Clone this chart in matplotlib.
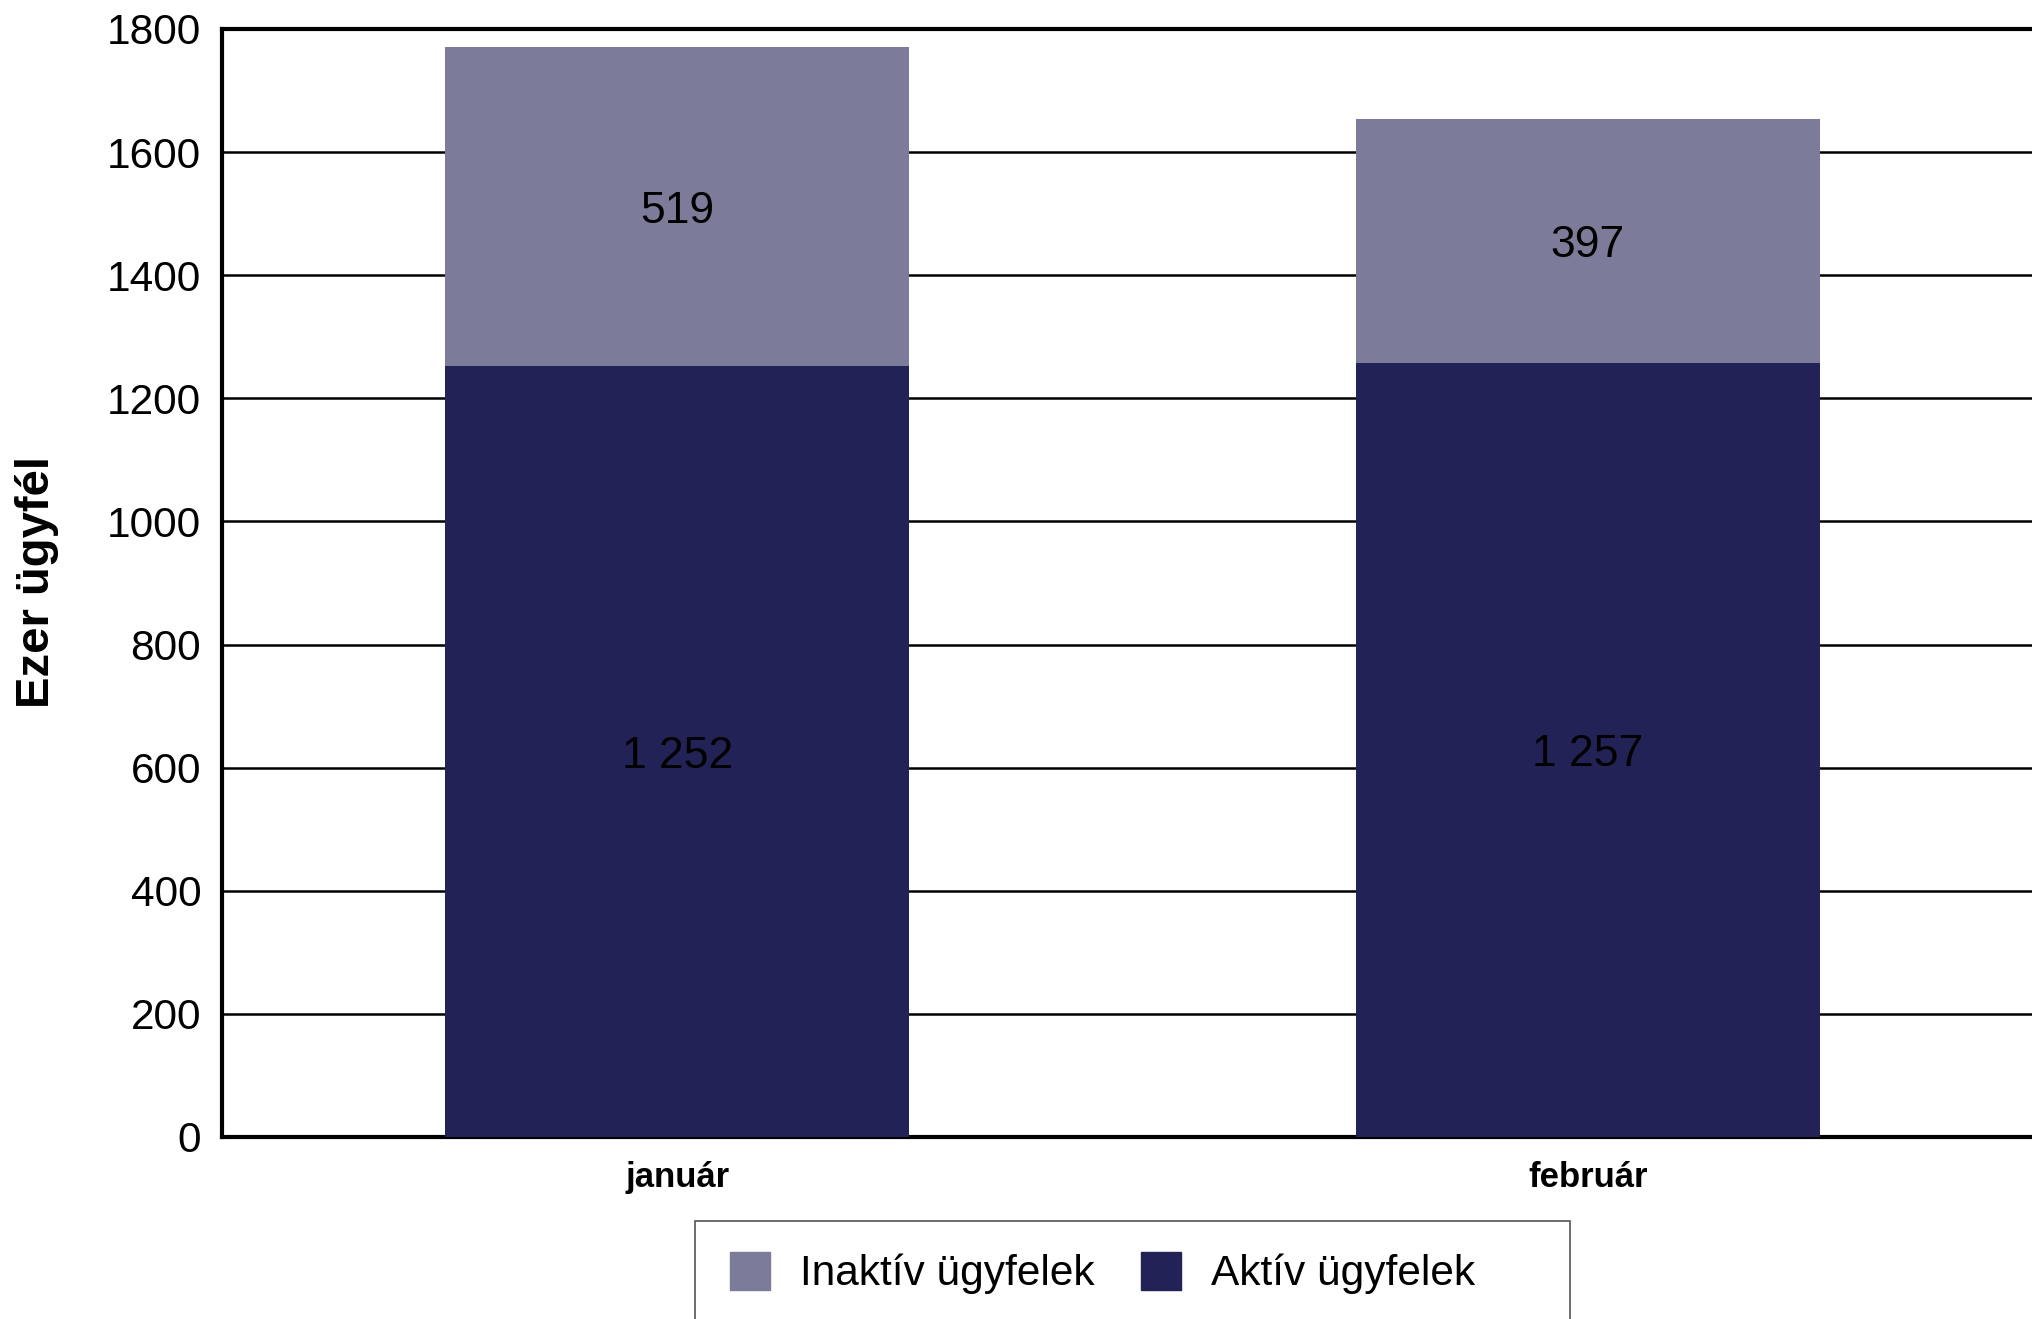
import matplotlib
matplotlib.use("Agg")
import matplotlib.pyplot as plt
from matplotlib.patches import Rectangle, Patch

# --------------------------------------------------
# Data
# --------------------------------------------------
months = ["január", "február"]
aktiv = [1252, 1257]
inaktiv = [519, 397]
aktiv_labels = ["1 252", "1 257"]
inaktiv_labels = ["519", "397"]
yticks = [0, 200, 400, 600, 800, 1000, 1200, 1400, 1600, 1800]

c_inaktiv = "#7C7B99"
c_aktiv = "#232257"

plt.rcParams["font.family"] = ["Liberation Sans", "DejaVu Sans"]

W, H = 2033, 1319
fig = plt.figure(figsize=(W / 100, H / 100), dpi=100)

# axes spans slightly beyond right edge (as in the cropped source)
left, right = 222, 2043
top, bottom = 29, 1137
ax = fig.add_axes([left / W, 1 - bottom / H, (right - left) / W, (bottom - top) / H])

x = range(len(months))
ax.bar(x, aktiv, width=0.51, color=c_aktiv, zorder=3)
ax.bar(x, inaktiv, width=0.51, bottom=aktiv, color=c_inaktiv, zorder=3)

for i in x:
    ax.text(i, aktiv[i] / 2, aktiv_labels[i], ha="center", va="center_baseline",
            fontsize=32, color="black", zorder=4)
    ax.text(i, aktiv[i] + inaktiv[i] / 2, inaktiv_labels[i], ha="center",
            va="center_baseline", fontsize=32, color="black", zorder=4)

ax.set_xlim(-0.5, 1.5)
ax.set_ylim(0, 1800)
ax.set_yticks(yticks)
ax.set_yticklabels([str(v) for v in yticks], fontsize=30.5)
ax.set_xticks(list(x))
ax.set_xticklabels(months, fontsize=25, fontweight="bold")
ax.tick_params(axis="y", length=0, pad=15)
ax.tick_params(axis="x", length=0, pad=17)

ax.yaxis.grid(True, color="black", linewidth=1.8, zorder=1)
ax.set_axisbelow(True)
for s in ["left", "bottom", "top"]:
    ax.spines[s].set_linewidth(3)
ax.spines["right"].set_visible(False)

fig.text(37 / W, 1 - 582 / H, "Ezer ügyfél", rotation=90, ha="center",
         va="center", fontsize=34, fontweight="bold")

# legend box
fig.patches.append(Rectangle((695 / W, 1 - 1345 / H), (1570 - 695) / W, (1345 - 1221) / H,
                             transform=fig.transFigure, facecolor="white",
                             edgecolor="#555555", linewidth=1.2))
handles = [Patch(color=c_inaktiv, label="Inaktív ügyfelek"),
           Patch(color=c_aktiv, label="Aktív ügyfelek")]
fig.legend(handles=handles, loc="center left", bbox_to_anchor=(722 / W, 1 - 1273 / H),
           ncol=2, frameon=False, fontsize=30.5, handlelength=0.94, handleheight=1.0,
           handletextpad=0.7, columnspacing=1.1, borderaxespad=0, borderpad=0.2)

fig.savefig("out.png", dpi=100)
